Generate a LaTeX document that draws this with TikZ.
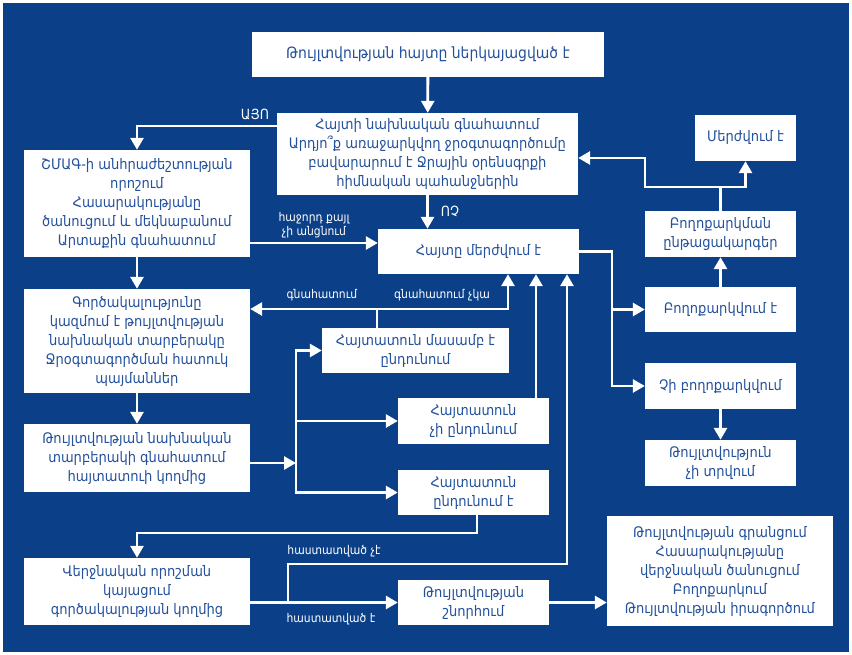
\documentclass[tikz,border=0pt]{standalone}
\usepackage{fontspec}
\setmainfont{DejaVu Sans Condensed}
\usetikzlibrary{arrows.meta}
\definecolor{bgblue}{HTML}{0B3F88}
\definecolor{txtblue}{HTML}{24519C}
\begin{document}
\begin{tikzpicture}[x=1pt,y=-1pt,
box/.style={fill=white,text=txtblue,inner sep=0pt,align=center,font=\fontsize{14.5}{19}\selectfont},
lbl/.style={text=white,inner sep=0pt,align=center,font=\fontsize{12}{14}\selectfont},
biglbl/.style={lbl,font=\fontsize{14}{16}\selectfont},
conn/.style={white,line width=2.8pt},
arr/.style={conn,-{Triangle[length=12pt,width=13pt]}}]
\useasboundingbox (0,0) rectangle (852,655);
\fill[white] (0,0) rectangle (852,655);
\fill[bgblue] (3,3) rectangle (849,652);
\node[box,minimum width=352pt,minimum height=45pt,font=\fontsize{15.5}{19}\selectfont] (topbox) at (428,54.5) {Թույլտվության հայտը ներկայացված է};
\node[box,minimum width=301pt,minimum height=82pt] (prelim) at (427.5,154) {Հայտի նախնական գնահատում\\Արդյո՞ք առաջարկվող ջրօգտագործումը\\բավարարում է Ջրային օրենսգրքի\\հիմնական պահանջներին};
\node[box,minimum width=226pt,minimum height=107pt] (needs) at (137,203.5) {ՇՄԱԳ-ի անհրաժեշտության\\որոշում\\Հասարակությանը\\ծանուցում և մեկնաբանում\\Արտաքին գնահատում};
\node[box,minimum width=201pt,minimum height=45pt] (reject) at (478.5,251.5) {Հայտը մերժվում է};
\node[box,minimum width=226pt,minimum height=104pt] (draft) at (137,341) {Գործակալությունը\\կազմում է թույլտվության\\նախնական տարբերակը\\Ջրօգտագործման հատուկ\\պայմաններ};
\node[box,minimum width=187pt,minimum height=45pt] (partly) at (415.5,350.5) {Հայտատուն մասամբ է\\ընդունում};
\node[box,minimum width=151pt,minimum height=46pt] (refuses) at (473.5,421) {Հայտատուն\\չի ընդունում};
\node[box,minimum width=151pt,minimum height=45pt] (accepts) at (473.5,492.5) {Հայտատուն\\ընդունում է};
\node[box,minimum width=226pt,minimum height=68pt] (review) at (137,458) {Թույլտվության նախնական\\տարբերակի գնահատում\\հայտատուի կողմից};
\node[box,minimum width=101pt,minimum height=46pt] (dismissed) at (745.5,138) {Մերժվում է};
\node[box,minimum width=151pt,minimum height=46pt] (appealproc) at (720.5,234) {Բողոքարկման\\ընթացակարգեր};
\node[box,minimum width=151pt,minimum height=45pt] (appealed) at (720.5,309.5) {Բողոքարկվում է};
\node[box,minimum width=151pt,minimum height=46pt] (notappealed) at (720.5,386) {Չի բողոքարկվում};
\node[box,minimum width=151pt,minimum height=46pt] (denied) at (720.5,463) {Թույլտվություն\\չի տրվում};
\node[box,minimum width=226pt,minimum height=67pt] (final) at (137,591.5) {Վերջնական որոշման\\կայացում\\գործակալության կողմից};
\node[box,minimum width=151pt,minimum height=45pt] (grant) at (473.5,602.5) {Թույլտվության\\շնորհում};
\node[box,minimum width=226pt,minimum height=110pt] (closing) at (720,571) {Թույլտվության գրանցում\\Հասարակությանը\\վերջնական ծանուցում\\Բողոքարկում\\Թույլտվության իրագործում};
\coordinate (lv1) at (0,243);
\coordinate (jn) at (377,309);
\coordinate (u1) at (508,309);
\coordinate (u2) at (536,0);
\coordinate (u3) at (567,0);
\coordinate (sp) at (296,463);
\coordinate (d1) at (477,533);
\coordinate (b1) at (288,564);
\coordinate (r1) at (612,0);
\coordinate (t1) at (720.5,187);
\coordinate (t2) at (645,158);
\draw[arr] (topbox) -- (prelim);
\draw[arr] ([yshift=28pt]prelim.west) -| (needs.north);
\node[biglbl] (yes) at (255,115) {ԱՅՈ};
\draw[arr] (prelim.south) -- (prelim.south |- reject.north);
\node[biglbl] (no) at (450,211) {ՈՉ};
\draw[arr] (needs.east |- lv1) -- (reject.west |- lv1);
\node[lbl] (nostep) at (314,225) {հաջորդ քայլ\\չի անցնում};
\draw[arr] (needs) -- (draft);
\draw[arr] (draft) -- (review);
\draw[conn] (jn |- partly.north) -- (jn);
\draw[arr] (jn) -- (draft.east |- jn);
\draw[arr] (jn) -- (u1) -- (u1 |- reject.south);
\node[lbl] (assess) at (322,295) {գնահատում};
\node[lbl] (noassess) at (442,295) {գնահատում չկա};
\draw[arr] (u2 |- refuses.north) -- (u2 |- reject.south);
\draw[arr] (review.east |- sp) -- (sp);
\draw[conn,{Triangle[length=12pt,width=13pt]}-{Triangle[length=12pt,width=13pt]}] (partly.west) -| (sp) |- (accepts.west);
\draw[arr] (sp |- refuses.west) -- (refuses.west);
\draw[arr] (d1 |- accepts.south) -- (d1) -| (final.north);
\draw[arr] (final.east |- grant) -- (grant);
\draw[arr] (b1 |- grant) -- (b1) -| (u3 |- reject.south);
\node[lbl] (notconf) at (334,551) {հաստատված չէ};
\node[lbl] (conf) at (331,619) {հաստատված է};
\draw[arr] (grant) -- (closing.west |- grant);
\draw[arr] (reject.east) -| (r1 |- notappealed) -- (notappealed.west);
\draw[arr] (r1 |- appealed) -- (appealed.west);
\draw[arr] (appealed) -- (appealproc);
\draw[arr] (appealproc.north) -- (t1) -| (dismissed.south);
\draw[arr] (t1) -| (t2) -- (prelim.east |- t2);
\draw[arr] (notappealed) -- (denied);
\end{tikzpicture}
\end{document}
